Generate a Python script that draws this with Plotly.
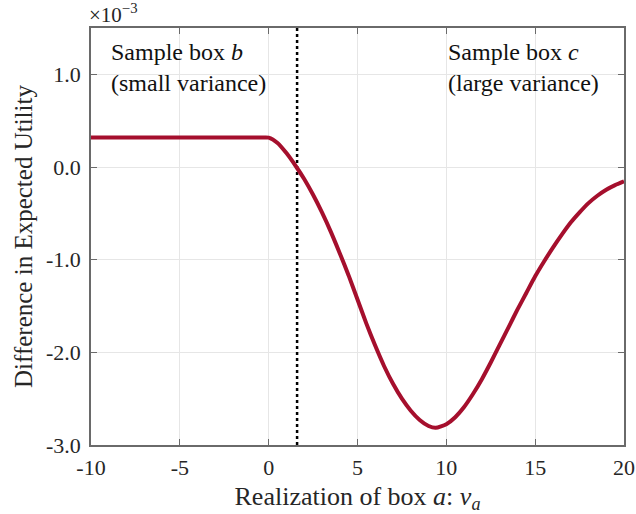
import plotly.graph_objects as go

# values in units of 1e-3
x_vals = [-10, -5, -2, -1, -0.5, 0, 0.5, 1, 1.56, 2, 2.5, 3, 3.5, 4, 4.5, 5, 5.5, 6, 6.5, 7, 7.5, 8, 8.5,
          9, 9.4, 10, 10.5, 11, 11.5, 12, 12.5, 13, 13.5, 14, 14.5, 15, 15.5, 16, 16.5, 17, 17.5, 18,
          18.5, 19, 19.5, 20]
y_vals = [0.317, 0.317, 0.317, 0.317, 0.317, 0.317, 0.26, 0.15, 0.0, -0.13, -0.30, -0.49, -0.70, -0.93,
          -1.17, -1.43, -1.69, -1.93, -2.15, -2.34, -2.50, -2.63, -2.73, -2.795, -2.815, -2.775, -2.70,
          -2.59, -2.45, -2.29, -2.11, -1.92, -1.73, -1.54, -1.36, -1.18, -1.02, -0.87, -0.73, -0.60,
          -0.49, -0.39, -0.31, -0.245, -0.195, -0.155]
threshold = 1.6

x_ticks = [-10, -5, 0, 5, 10, 15, 20]
x_ticktext = ["-10", "-5", "0", "5", "10", "15", "20"]
y_ticks = [-3, -2, -1, 0, 1]
y_ticktext = ["-3.0", "-2.0", "-1.0", "0.0", "1.0"]

FONT = "Liberation Serif"
AX = "#6a6a6a"
TXT = "#262626"

fig = go.Figure()
fig.add_trace(go.Scatter(x=[threshold, threshold], y=[-3, 1.5], mode="lines",
                         line=dict(color="black", width=2.5, dash="dot"), showlegend=False))
fig.add_trace(go.Scatter(x=x_vals, y=y_vals, mode="lines",
                         line=dict(color="#A50F2D", width=4, shape="spline", smoothing=0.6),
                         showlegend=False))

axis_common = dict(showline=True, linecolor=AX, linewidth=1.5, mirror="ticks",
                   ticks="inside", ticklen=6, tickcolor=AX, tickwidth=1.2,
                   showgrid=True, gridcolor="#e6e6e6", gridwidth=1, zeroline=False,
                   automargin=False,
                   tickfont=dict(family=FONT, size=22, color=TXT))

fig.update_xaxes(range=[-10, 20], tickvals=x_ticks, ticktext=x_ticktext, ticklabelstandoff=2,
                 title=dict(text="Realization of box <i>a</i>: <i>v<sub>a</sub></i>",
                            font=dict(family=FONT, size=26, color=TXT), standoff=8),
                 **axis_common)
fig.update_yaxes(range=[-3, 1.5], tickvals=y_ticks, ticktext=y_ticktext, ticklabelstandoff=4,
                 title=dict(text="Difference in Expected Utility",
                            font=dict(family=FONT, size=25, color=TXT), standoff=6),
                 **axis_common)

fig.add_annotation(x=-9.0, y=1.4, xref="x", yref="y", xanchor="left", yanchor="top",
                   text="Sample box <i>b</i><br>(small variance)", showarrow=False, align="left",
                   font=dict(family=FONT, size=24, color="#111111"))
fig.add_annotation(x=10.0, y=1.4, xref="x", yref="y", xanchor="left", yanchor="top",
                   text="Sample box <i>c</i><br>(large variance)", showarrow=False, align="left",
                   font=dict(family=FONT, size=24, color="#111111"))
fig.add_annotation(x=0, y=1.0, xref="paper", yref="paper", xanchor="left", yanchor="bottom",
                   xshift=-4, yshift=-1,
                   text="×10<sup>−3</sup>", showarrow=False,
                   font=dict(family=FONT, size=21, color=TXT))

fig.update_layout(width=636, height=514, margin=dict(l=91, r=12, t=28, b=69),
                  plot_bgcolor="white", paper_bgcolor="white")

# remove the browser's default body margin so the figure fills the window exactly
fig.write_html("out.html", config={"displayModeBar": False},
               post_script="document.body.style.margin='0';document.body.style.overflow='hidden';")
